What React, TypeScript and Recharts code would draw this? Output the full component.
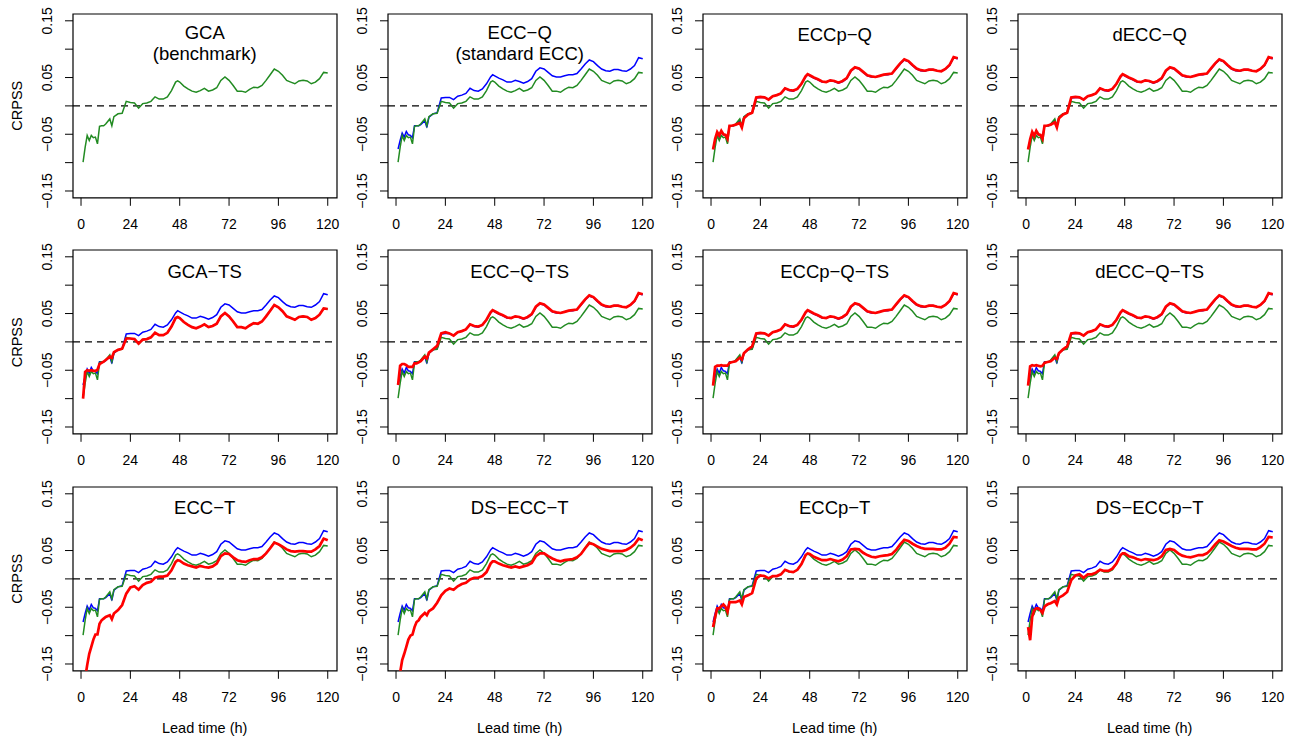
import React from 'react'
import { LineChart, Line, XAxis, YAxis, ReferenceLine, ReferenceArea } from 'recharts'

const hours = [1, 2, 3, 4, 5, 6, 7, 8, 9, 10, 11, 12,
  14, 15, 16, 18, 20,
  22, 24, 26, 28, 30, 32, 34, 36, 38, 40, 42, 44, 46,
  47,
  48, 50, 52, 54, 56, 58, 60, 62, 64, 66,
  68, 70, 72, 74, 76, 78, 80, 82, 84, 86,
  88, 90, 92, 94, 96, 98, 100, 102, 104, 106,
  108, 110, 112, 114, 116, 118, 120]

// GCA benchmark (green)
const gca = [-0.099, -0.073, -0.052, -0.061, -0.052, -0.056, -0.055, -0.067, -0.036, -0.035, -0.035, -0.032,
  -0.023, -0.035, -0.019, -0.014, -0.013,
  0.008, 0.006, 0.005, -0.004, 0.004, 0.005, 0.008, 0.016, 0.012, 0.012, 0.016, 0.027, 0.042,
  0.044,
  0.042, 0.035, 0.030, 0.026, 0.024, 0.027, 0.031, 0.026, 0.028, 0.032,
  0.045, 0.051, 0.045, 0.036, 0.026, 0.026, 0.024, 0.029, 0.033, 0.032,
  0.036, 0.045, 0.055, 0.065, 0.061, 0.054, 0.045, 0.042, 0.039, 0.044,
  0.045, 0.044, 0.039, 0.042, 0.048, 0.059, 0.058]

// standard ECC-Q (blue)
const eccQ = [-0.076, -0.061, -0.048, -0.055, -0.045, -0.051, -0.052, -0.056, -0.035, -0.035, -0.035, -0.033,
  -0.026, -0.038, -0.020, -0.014, -0.012,
  0.014, 0.015, 0.015, 0.011, 0.017, 0.019, 0.022, 0.031, 0.027, 0.026, 0.030, 0.039, 0.051,
  0.055,
  0.053, 0.049, 0.046, 0.042, 0.042, 0.045, 0.043, 0.040, 0.043, 0.048,
  0.061, 0.067, 0.065, 0.059, 0.053, 0.051, 0.051, 0.053, 0.055, 0.055,
  0.057, 0.065, 0.074, 0.081, 0.078, 0.071, 0.065, 0.062, 0.061, 0.064,
  0.064, 0.062, 0.061, 0.065, 0.071, 0.085, 0.083]

// red curves, one per method
const eccpQ = [-0.077, -0.058, -0.046, -0.052, -0.044, -0.050, -0.051, -0.058, -0.035, -0.035, -0.034, -0.033,
  -0.030, -0.038, -0.022, -0.015, -0.012,
  0.015, 0.016, 0.015, 0.011, 0.017, 0.019, 0.022, 0.031, 0.028, 0.027, 0.030, 0.039, 0.052,
  0.056,
  0.054, 0.050, 0.047, 0.043, 0.042, 0.045, 0.044, 0.041, 0.044, 0.049,
  0.062, 0.068, 0.066, 0.060, 0.054, 0.052, 0.051, 0.053, 0.055, 0.056,
  0.057, 0.066, 0.075, 0.082, 0.079, 0.072, 0.066, 0.063, 0.062, 0.064,
  0.064, 0.062, 0.061, 0.065, 0.072, 0.086, 0.084]

const deccQ = [-0.077, -0.059, -0.046, -0.053, -0.044, -0.050, -0.051, -0.058, -0.035, -0.035, -0.034, -0.033,
  -0.029, -0.038, -0.022, -0.015, -0.012,
  0.015, 0.016, 0.015, 0.011, 0.017, 0.019, 0.022, 0.031, 0.028, 0.027, 0.030, 0.039, 0.052,
  0.056,
  0.054, 0.050, 0.047, 0.043, 0.042, 0.045, 0.044, 0.041, 0.044, 0.049,
  0.062, 0.068, 0.066, 0.060, 0.054, 0.052, 0.051, 0.053, 0.055, 0.056,
  0.057, 0.066, 0.075, 0.082, 0.079, 0.072, 0.066, 0.063, 0.062, 0.064,
  0.064, 0.062, 0.061, 0.065, 0.072, 0.086, 0.084]

const gcaTs = [-0.100, -0.053, -0.050, -0.051, -0.050, -0.051, -0.051, -0.049, -0.039, -0.037, -0.035, -0.032,
  -0.026, -0.028, -0.018, -0.014, -0.012,
  0.006, 0.006, 0.005, -0.003, 0.004, 0.005, 0.008, 0.016, 0.012, 0.012, 0.016, 0.027, 0.042,
  0.044,
  0.042, 0.035, 0.030, 0.026, 0.024, 0.027, 0.031, 0.026, 0.028, 0.032,
  0.045, 0.051, 0.045, 0.036, 0.026, 0.026, 0.024, 0.029, 0.033, 0.032,
  0.036, 0.045, 0.055, 0.065, 0.061, 0.054, 0.045, 0.042, 0.039, 0.044,
  0.045, 0.044, 0.039, 0.042, 0.048, 0.059, 0.058]

const eccQTs = [-0.076, -0.042, -0.039, -0.039, -0.041, -0.044, -0.044, -0.044, -0.038, -0.038, -0.036, -0.034,
  -0.026, -0.029, -0.019, -0.013, -0.007,
  0.015, 0.017, 0.015, 0.011, 0.017, 0.019, 0.022, 0.031, 0.028, 0.027, 0.030, 0.039, 0.052,
  0.056,
  0.054, 0.050, 0.047, 0.043, 0.042, 0.045, 0.044, 0.041, 0.044, 0.049,
  0.062, 0.068, 0.066, 0.060, 0.054, 0.052, 0.051, 0.053, 0.055, 0.056,
  0.057, 0.066, 0.075, 0.082, 0.079, 0.072, 0.066, 0.063, 0.062, 0.064,
  0.064, 0.062, 0.061, 0.065, 0.072, 0.086, 0.084]

const eccpQTs = [-0.077, -0.044, -0.042, -0.042, -0.041, -0.042, -0.042, -0.042, -0.037, -0.036, -0.035, -0.034,
  -0.028, -0.031, -0.020, -0.013, -0.008,
  0.015, 0.016, 0.015, 0.011, 0.017, 0.019, 0.022, 0.031, 0.028, 0.027, 0.030, 0.039, 0.052,
  0.056,
  0.054, 0.050, 0.047, 0.043, 0.042, 0.045, 0.044, 0.041, 0.044, 0.049,
  0.062, 0.068, 0.066, 0.060, 0.054, 0.052, 0.051, 0.053, 0.055, 0.056,
  0.057, 0.066, 0.075, 0.082, 0.079, 0.072, 0.066, 0.063, 0.062, 0.064,
  0.064, 0.062, 0.061, 0.065, 0.072, 0.086, 0.084]

const deccQTs = [-0.077, -0.043, -0.041, -0.042, -0.041, -0.042, -0.043, -0.042, -0.037, -0.036, -0.035, -0.034,
  -0.028, -0.030, -0.020, -0.013, -0.008,
  0.015, 0.016, 0.015, 0.011, 0.017, 0.019, 0.022, 0.031, 0.028, 0.027, 0.030, 0.039, 0.052,
  0.056,
  0.054, 0.050, 0.047, 0.043, 0.042, 0.045, 0.044, 0.041, 0.044, 0.049,
  0.062, 0.068, 0.066, 0.060, 0.054, 0.052, 0.051, 0.053, 0.055, 0.056,
  0.057, 0.066, 0.075, 0.082, 0.079, 0.072, 0.066, 0.063, 0.062, 0.064,
  0.064, 0.062, 0.061, 0.065, 0.072, 0.086, 0.084]

const eccT = [-0.215, -0.175, -0.152, -0.132, -0.120, -0.107, -0.098, -0.098, -0.079, -0.073, -0.070, -0.067,
  -0.064, -0.071, -0.061, -0.055, -0.046,
  -0.026, -0.015, -0.013, -0.019, -0.011, -0.007, -0.005, 0.002, 0.004, 0.004, 0.006, 0.015, 0.030,
  0.033,
  0.032, 0.027, 0.024, 0.022, 0.020, 0.023, 0.021, 0.020, 0.022, 0.027,
  0.040, 0.045, 0.044, 0.038, 0.033, 0.031, 0.030, 0.033, 0.035, 0.035,
  0.038, 0.045, 0.054, 0.064, 0.061, 0.057, 0.052, 0.049, 0.048, 0.049,
  0.049, 0.048, 0.048, 0.052, 0.058, 0.071, 0.068]

const dsEccT = [-0.200, -0.165, -0.143, -0.132, -0.120, -0.107, -0.100, -0.098, -0.085, -0.076, -0.073, -0.067,
  -0.060, -0.064, -0.057, -0.052, -0.042,
  -0.029, -0.021, -0.017, -0.019, -0.013, -0.009, -0.007, -0.001, 0.002, 0.002, 0.005, 0.012, 0.027,
  0.031,
  0.031, 0.027, 0.024, 0.022, 0.020, 0.022, 0.020, 0.022, 0.024, 0.028,
  0.040, 0.045, 0.045, 0.040, 0.036, 0.033, 0.031, 0.033, 0.034, 0.035,
  0.038, 0.044, 0.054, 0.063, 0.061, 0.057, 0.053, 0.051, 0.049, 0.049,
  0.049, 0.049, 0.051, 0.055, 0.061, 0.071, 0.068]

const eccpT = [-0.085, -0.067, -0.052, -0.052, -0.048, -0.045, -0.049, -0.058, -0.041, -0.041, -0.041, -0.041,
  -0.038, -0.045, -0.032, -0.029, -0.025,
  0.001, 0.006, 0.005, 0.001, 0.005, 0.005, 0.008, 0.016, 0.013, 0.012, 0.016, 0.026, 0.042,
  0.045,
  0.044, 0.039, 0.036, 0.033, 0.033, 0.035, 0.033, 0.031, 0.034, 0.040,
  0.052, 0.053, 0.052, 0.046, 0.042, 0.039, 0.038, 0.040, 0.041, 0.042,
  0.044, 0.051, 0.061, 0.069, 0.067, 0.062, 0.058, 0.055, 0.053, 0.053,
  0.053, 0.052, 0.052, 0.055, 0.062, 0.074, 0.073]

const dsEccpT = [-0.085, -0.108, -0.067, -0.055, -0.052, -0.052, -0.055, -0.060, -0.049, -0.046, -0.044, -0.043,
  -0.039, -0.045, -0.033, -0.029, -0.023,
  -0.002, 0.006, 0.008, 0.002, 0.008, 0.008, 0.011, 0.016, 0.014, 0.014, 0.018, 0.027, 0.042,
  0.045,
  0.045, 0.040, 0.038, 0.035, 0.033, 0.035, 0.034, 0.033, 0.035, 0.040,
  0.051, 0.053, 0.051, 0.045, 0.041, 0.039, 0.038, 0.040, 0.042, 0.042,
  0.045, 0.052, 0.061, 0.068, 0.066, 0.062, 0.058, 0.055, 0.053, 0.053,
  0.053, 0.052, 0.052, 0.056, 0.062, 0.074, 0.073]

const xTicks = [0, 24, 48, 72, 96, 120]
const yTicks = [-0.15, -0.1, -0.05, 0, 0.05, 0.1, 0.15]
const yLabelled = [-0.15, -0.05, 0.05, 0.15]

const panels = [
  { title: ['GCA', '(benchmark)'], blue: false, red: null },
  { title: ['ECC−Q', '(standard ECC)'], blue: true, red: null },
  { title: ['ECCp−Q'], blue: true, red: eccpQ },
  { title: ['dECC−Q'], blue: true, red: deccQ },
  { title: ['GCA−TS'], blue: true, red: gcaTs },
  { title: ['ECC−Q−TS'], blue: true, red: eccQTs },
  { title: ['ECCp−Q−TS'], blue: true, red: eccpQTs },
  { title: ['dECC−Q−TS'], blue: true, red: deccQTs },
  { title: ['ECC−T'], blue: true, red: eccT },
  { title: ['DS−ECC−T'], blue: true, red: dsEccT },
  { title: ['ECCp−T'], blue: true, red: eccpT },
  { title: ['DS−ECCp−T'], blue: true, red: dsEccpT },
]

const FONT = '"Liberation Sans", Arial, Helvetica, sans-serif'
const COL_X = [72.7, 387.7, 702.7, 1017.7]
const ROW_Y = [13.8, 250.4, 486.8]
const PLOT_W = 264
const PLOT_H = 183.8
const Y_W = 60
const TOP = 20
const X_H = 60
const X_DOMAIN = [-3.9, 124.5]
const Y_DOMAIN = [-0.162, 0.162]

const fmt = (v: number) => (v < 0 ? '−' : '') + Math.abs(v).toFixed(2)

const YTick = (props: any) => {
  const { y, payload } = props
  const v = payload.value
  if (!yLabelled.some((t) => Math.abs(t - v) < 1e-9)) return <g />
  const cx = Y_W - 26
  return (
    <text x={cx} y={y} dy="0.35em" transform={`rotate(-90, ${cx}, ${y})`}
      textAnchor="middle" fontSize={14} fontFamily={FONT} fill="#000">
      {fmt(v)}
    </text>
  )
}

const XTick = (props: any) => {
  const { x, payload } = props
  return (
    <text x={x} y={TOP + PLOT_H + 26.5} dy="0.35em" textAnchor="middle"
      fontSize={14} fontFamily={FONT} fill="#000">
      {payload.value}
    </text>
  )
}

const Panel = ({ idx }: { idx: number }) => {
  const p = panels[idx]
  const col = idx % 4
  const row = Math.floor(idx / 4)
  const data = hours.map((h, i) => ({ h, g: gca[i], b: eccQ[i], r: p.red ? p.red[i] : null }))
  return (
    <div style={{ position: 'absolute', left: COL_X[col] - Y_W, top: ROW_Y[row] - TOP }}>
      <LineChart width={Y_W + PLOT_W + 10} height={TOP + PLOT_H + X_H} data={data}
        margin={{ top: TOP, right: 10, bottom: 0, left: 0 }}>
        <XAxis dataKey="h" type="number" domain={X_DOMAIN} allowDataOverflow ticks={xTicks}
          interval={0} axisLine={false} tickSize={8} tickLine={{ stroke: '#000' }}
          height={X_H} tick={<XTick />} />
        <YAxis type="number" domain={Y_DOMAIN} allowDataOverflow ticks={yTicks} interval={0}
          axisLine={false} tickSize={8} tickLine={{ stroke: '#000' }} width={Y_W} tick={<YTick />} />
        <ReferenceLine y={0} stroke="#000" strokeWidth={1.2} strokeDasharray="7 5" />
        {p.blue && (
          <Line dataKey="b" type="linear" stroke="#0000FF" strokeWidth={1.5} dot={false}
            isAnimationActive={false} />
        )}
        <Line dataKey="g" type="linear" stroke="#228B22" strokeWidth={1.5} dot={false}
          isAnimationActive={false} />
        {p.red && (
          <Line dataKey="r" type="linear" stroke="#FF0000" strokeWidth={2.7} dot={false}
            isAnimationActive={false} />
        )}
        <ReferenceArea x1={X_DOMAIN[0]} x2={X_DOMAIN[1]} y1={Y_DOMAIN[0]} y2={Y_DOMAIN[1]}
          fill="none" stroke="#000" strokeWidth={1.2} ifOverflow="visible" />
      </LineChart>
    </div>
  )
}

export default function App() {
  return (
    <div style={{ position: 'absolute', left: 0, top: 0, width: 1301, height: 740, background: '#fff' }}>
      {panels.map((_, i) => (
        <Panel key={i} idx={i} />
      ))}
      <svg width={1301} height={740} style={{ position: 'absolute', left: 0, top: 0, pointerEvents: 'none' }}
        fontFamily={FONT} fill="#000">
        {panels.map((p, i) => {
          const cx = COL_X[i % 4] + PLOT_W / 2
          const top = ROW_Y[Math.floor(i / 4)]
          return p.title.length === 1 ? (
            <text key={i} x={cx} y={top + 21} dy="0.35em" textAnchor="middle" fontSize={18.5}>{p.title[0]}</text>
          ) : (
            <g key={i}>
              <text x={cx} y={top + 18.4} dy="0.35em" textAnchor="middle" fontSize={18.5}>{p.title[0]}</text>
              <text x={cx} y={top + 40} dy="0.35em" textAnchor="middle" fontSize={18.5}>{p.title[1]}</text>
            </g>
          )
        })}
        {ROW_Y.map((top, r) => (
          <text key={r} x={16.7} y={top + PLOT_H / 2} dy="0.35em" textAnchor="middle" fontSize={14.5}
            transform={`rotate(-90, 16.7, ${top + PLOT_H / 2})`}>CRPSS</text>
        ))}
        {COL_X.map((left, c) => (
          <text key={c} x={left + PLOT_W / 2} y={728.3} dy="0.35em" textAnchor="middle" fontSize={14.5}>
            Lead time (h)
          </text>
        ))}
      </svg>
    </div>
  )
}
